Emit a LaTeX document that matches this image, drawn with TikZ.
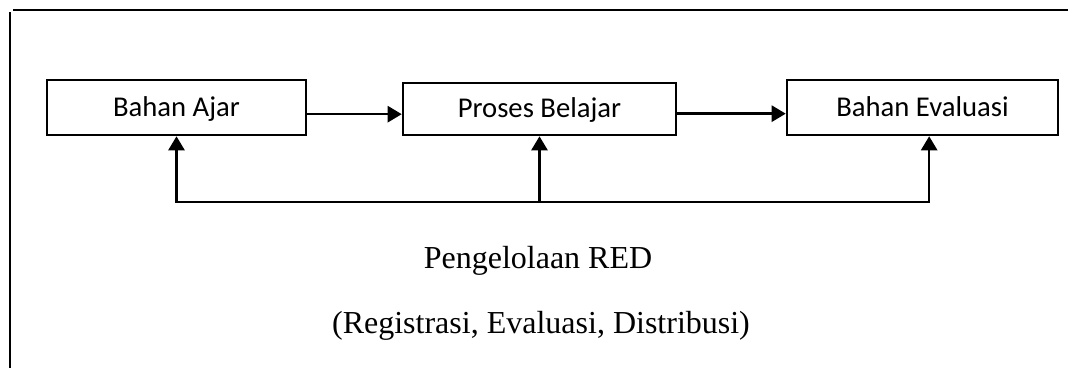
\documentclass[tikz,border=0pt]{standalone}
\usepackage{fontspec}
\setmainfont{Liberation Serif}
\newfontfamily\boxfont{Carlito}
\usetikzlibrary{arrows.meta}

\begin{document}
\begin{tikzpicture}[x=0.75pt, y=-0.75pt]

  % Styles
  \tikzset{
    block/.style={draw, line width=1.9pt, minimum height=41.25pt, inner sep=0pt,
      text height=13.2pt, text depth=-1.2pt, font=\boxfont\fontsize{21.5}{25}\selectfont},
    flow/.style={line width=1.9pt, -{Triangle[length=10.5pt, width=12pt]}},
    frame/.style={line width=2.1pt},
    caption/.style={anchor=base, inner sep=0pt, font=\fontsize{24}{28}\selectfont}
  }

  \useasboundingbox (0,0) rectangle (1068,368);

  % --- Frame (cut off at right and bottom) ---
  \draw[frame] (13,10) -- (1068,10);
  \draw[frame] (10,12) -- (10,368);

  % --- Blocks ---
  \node[block, minimum width=194.25pt] (ajar) at (176.5,107.5) {Bahan Ajar};
  \node[block, minimum width=204.75pt, minimum height=39pt] (proses) at (539.5,109) {Proses Belajar};
  \node[block, minimum width=203.25pt] (evaluasi) at (922.5,107.5) {Bahan Evaluasi};

  % --- Forward arrows ---
  \draw[flow] ([yshift=-5]ajar.east) -- ([yshift=-5]ajar.east -| proses.west);
  \draw[flow] ([yshift=-3.5]proses.east) -- ([yshift=-3.5]proses.east -| evaluasi.west);

  % --- Feedback from RED ---
  \coordinate (red) at (539.5,202);
  \draw[flow] (red) -- (proses.south);
  \draw[flow] (red) -| (ajar.south);
  \draw[flow] (red) -| ([xshift=5]evaluasi.south);

  % --- Label ---
  \node[caption] (ttl) at (538,268) {Pengelolaan RED};
  \node[caption] (sub) at (541,333) {(Registrasi, Evaluasi, Distribusi)};

\end{tikzpicture}
\end{document}
